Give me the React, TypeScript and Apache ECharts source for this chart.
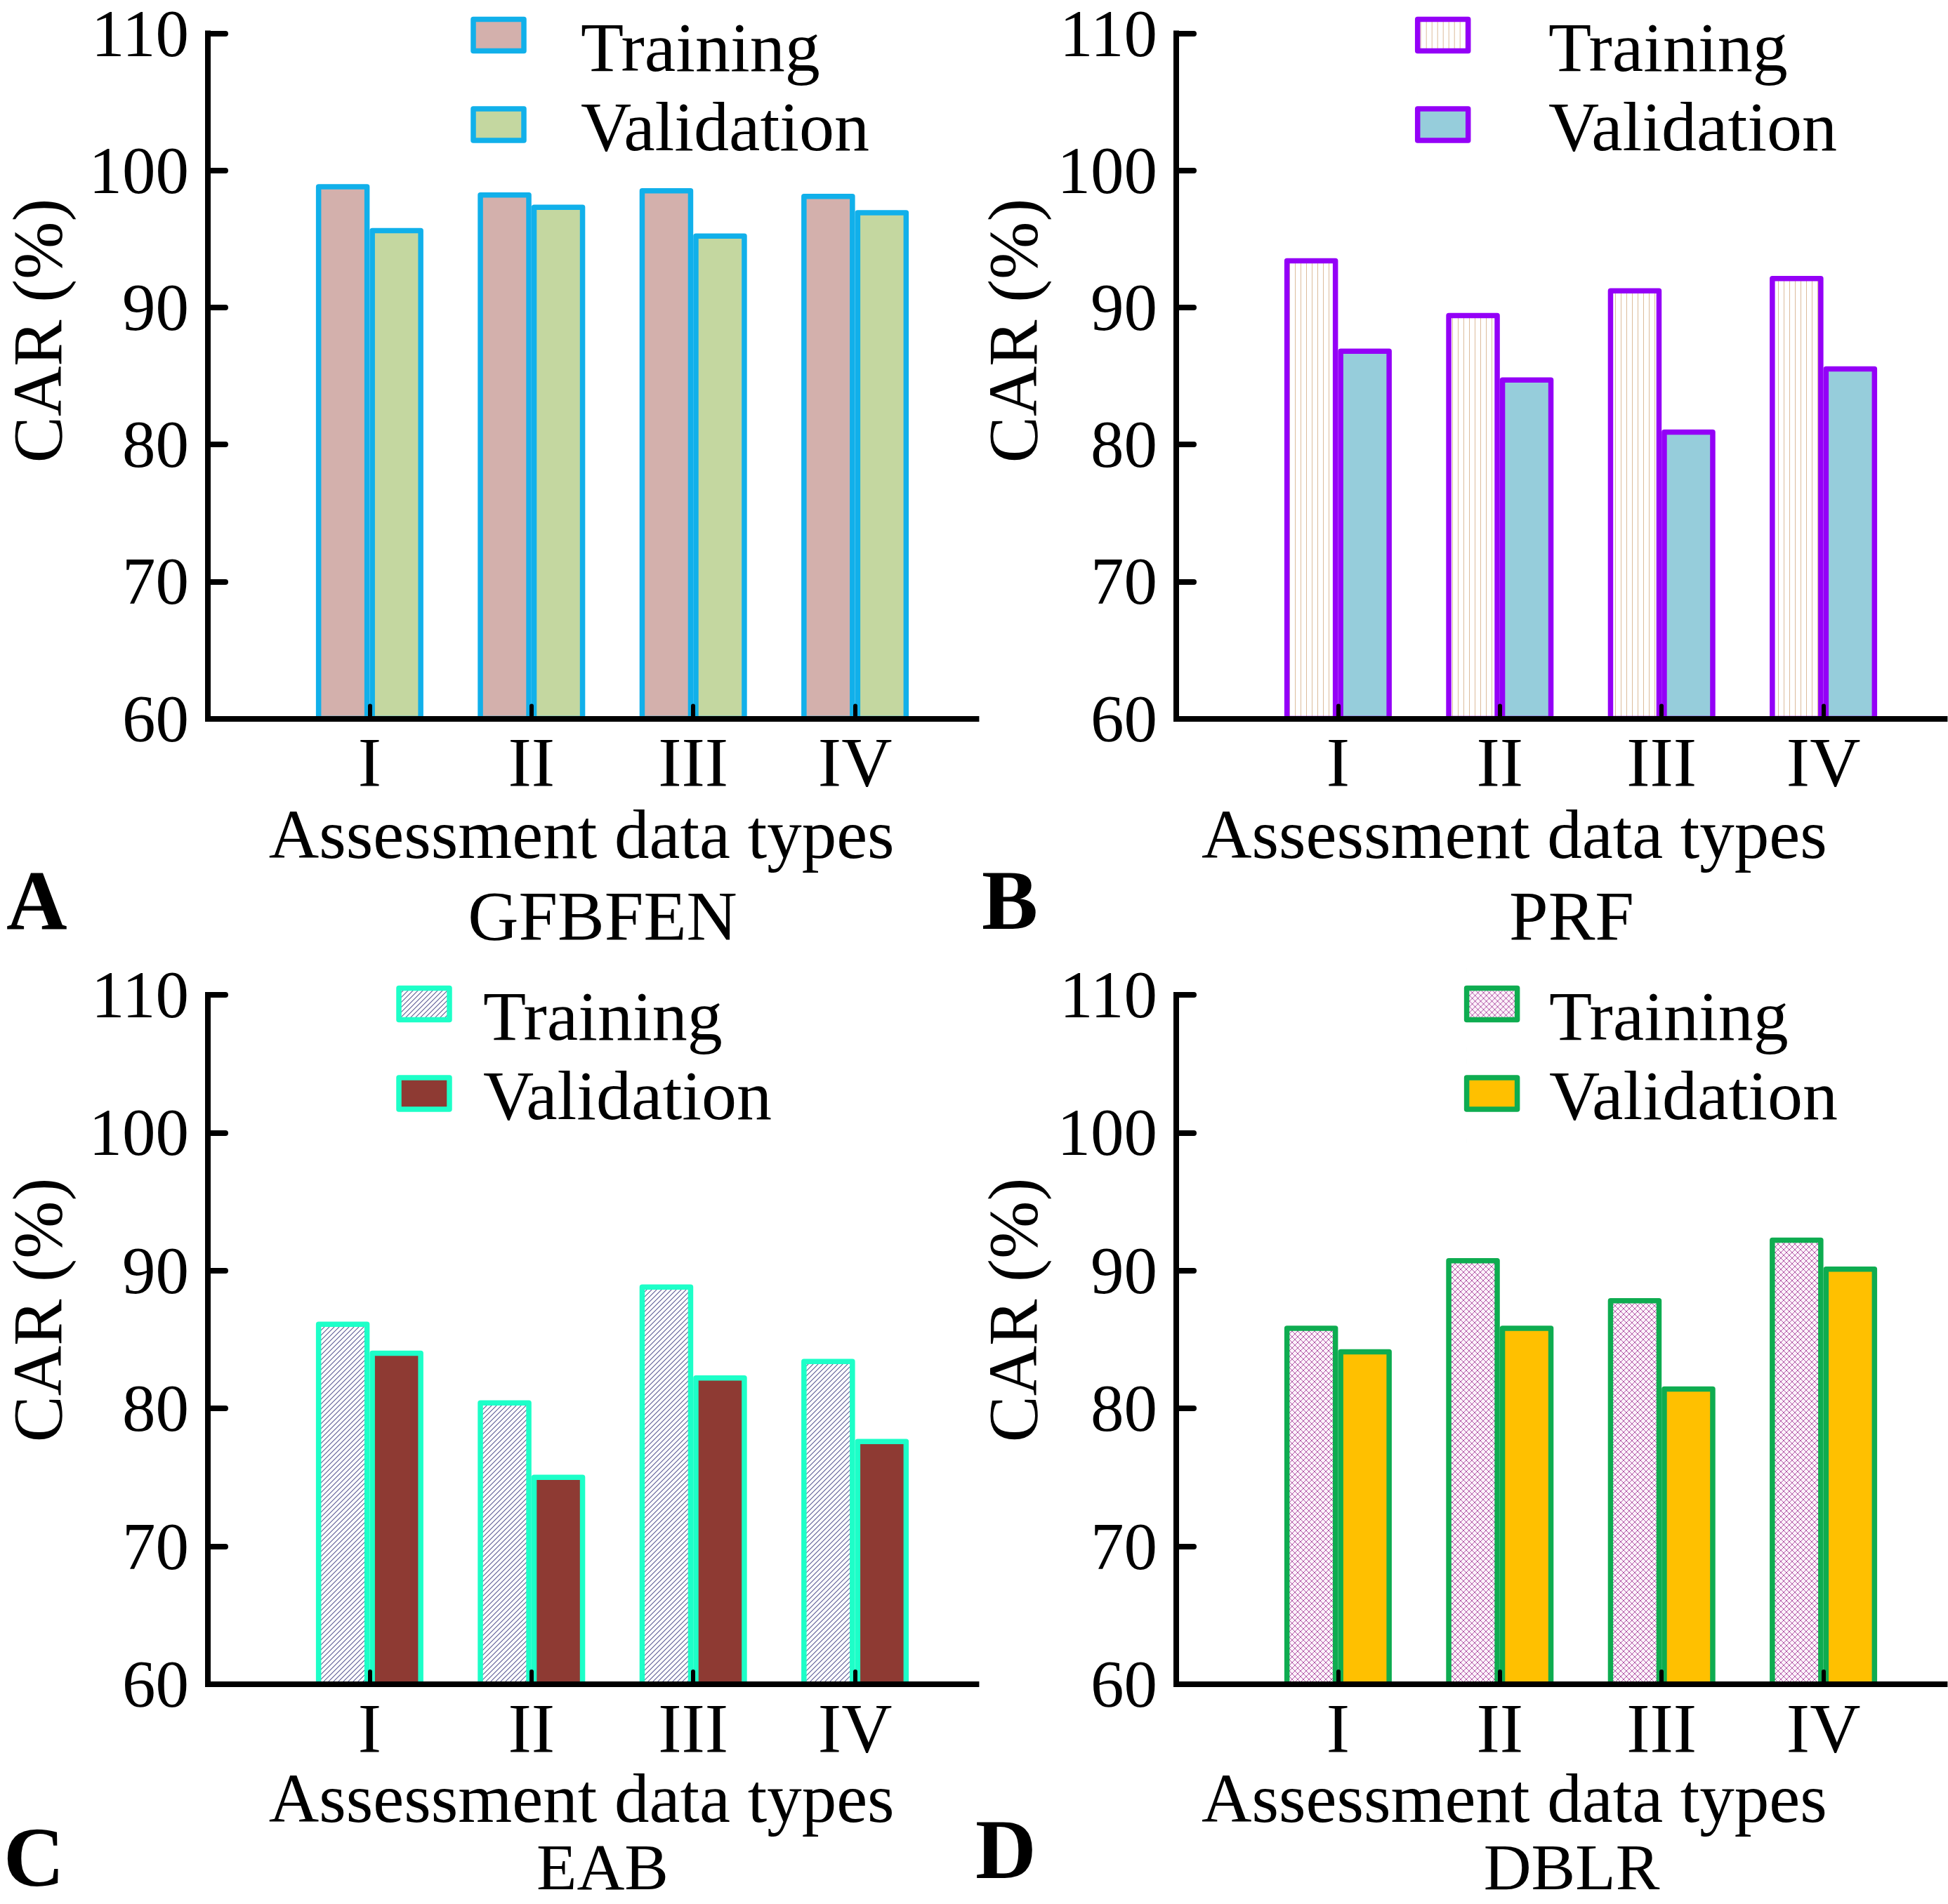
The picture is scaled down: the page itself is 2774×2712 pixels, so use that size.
import React, { useEffect, useRef } from 'react';
import * as echarts from 'echarts';

// ---------------- data ----------------
const categories = ['I', 'II', 'III', 'IV'];
const categoryPositions = [1, 2, 3, 4];
const seriesLabels = ['Training', 'Validation'];
const modelNames = ['GFBFEN', 'PRF', 'EAB', 'DBLR'];
const panelLetters = ['A', 'B', 'C', 'D'];
const yMin = 60;
const yMax = 110;
const yStep = 10;

const gfbfenTraining = [99.0, 98.4, 98.7, 98.3];
const gfbfenValidation = [95.8, 97.5, 95.4, 97.1];
const prfTraining = [93.6, 89.6, 91.4, 92.3];
const prfValidation = [87.0, 84.9, 81.1, 85.7];
const eabTraining = [86.3, 80.6, 89.0, 83.6];
const eabValidation = [84.2, 75.2, 82.4, 77.8];
const dblrTraining = [86.0, 90.9, 88.0, 92.4];
const dblrValidation = [84.3, 86.0, 81.6, 90.3];

const trainingSets = [gfbfenTraining, prfTraining, eabTraining, dblrTraining];
const validationSets = [gfbfenValidation, prfValidation, eabValidation, dblrValidation];

// ---------------- layout / style ----------------
const W = 2774;
const H = 2712;
const FONT = "'Liberation Serif', 'Times New Roman', Times, serif";
const CAT_STEP = 230.4;
const X_MAX = 4.75;
const ICON_W = 72;
const ICON_H = 45;
const ICON_BOX = 130; // legend item height (icon box incl. spacing)

const layout = [
  { left: 296, top: 42, bottom: 1023.5, xNameGap: 115, nameShiftX: 15, yNameGap: 193, yNameShift: 64.7, iconCx: 710, textLeft: 829, rowOffset: 0, title: [858, 1304], titleSize: 100, letter: [9, 1282] },
  { left: 1675, top: 42, bottom: 1023.5, xNameGap: 115, nameShiftX: 65.8, yNameGap: 183, yNameShift: 64.7, iconCx: 2054.7, textLeft: 2207, rowOffset: 0, title: [2238, 1304], titleSize: 100, letter: [1398, 1282] },
  { left: 296, top: 1417, bottom: 2399, xNameGap: 103, nameShiftX: 15, yNameGap: 193, yNameShift: 42, iconCx: 604, textLeft: 690, rowOffset: 1380, title: [858, 2659], titleSize: 94, letter: [5, 2645] },
  { left: 1675, top: 1417, bottom: 2399, xNameGap: 103, nameShiftX: 65.8, yNameGap: 183, yNameShift: 42, iconCx: 2124.6, textLeft: 2208, rowOffset: 1380, title: [2238, 2659], titleSize: 94, letter: [1389, 2634] },
];

function tile(size: number, draw: (ctx: CanvasRenderingContext2D, s: number) => void) {
  const c = document.createElement('canvas');
  c.width = size;
  c.height = size;
  const ctx = c.getContext('2d') as CanvasRenderingContext2D;
  draw(ctx, size);
  return { image: c.toDataURL(), repeat: 'repeat', imageWidth: size, imageHeight: size };
}

function makeFills() {
  const vertical = tile(8, (ctx, s) => {
    ctx.fillStyle = '#ffffff';
    ctx.fillRect(0, 0, s, s);
    ctx.fillStyle = '#dcbc9c';
    ctx.fillRect(4, 0, 1, s);
  });
  const diagonal = tile(7, (ctx, s) => {
    ctx.fillStyle = '#ffffff';
    ctx.fillRect(0, 0, s, s);
    ctx.strokeStyle = '#5c5c96';
    ctx.lineWidth = 1.1;
    ctx.beginPath();
    ctx.moveTo(-1, s + 1); ctx.lineTo(s + 1, -1);
    ctx.moveTo(-2, 2); ctx.lineTo(2, -2);
    ctx.moveTo(s - 2, s + 2); ctx.lineTo(s + 2, s - 2);
    ctx.stroke();
  });
  const cross = tile(8, (ctx, s) => {
    ctx.fillStyle = '#fcf2fa';
    ctx.fillRect(0, 0, s, s);
    ctx.strokeStyle = '#b25aa8';
    ctx.lineWidth = 1;
    ctx.beginPath();
    ctx.moveTo(-1, s + 1); ctx.lineTo(s + 1, -1);
    ctx.moveTo(-2, 2); ctx.lineTo(2, -2);
    ctx.moveTo(s - 2, s + 2); ctx.lineTo(s + 2, s - 2);
    ctx.moveTo(-1, -1); ctx.lineTo(s + 1, s + 1);
    ctx.moveTo(-2, s - 2); ctx.lineTo(2, s + 2);
    ctx.moveTo(s - 2, -2); ctx.lineTo(s + 2, 2);
    ctx.stroke();
  });
  return [
    { train: '#d3b0ac', val: '#c4d7a0', border: '#11b0ea' },
    { train: vertical, val: '#96cddb', border: '#9400f7' },
    { train: diagonal, val: '#8e3a33', border: '#1dffc8' },
    { train: cross, val: '#ffc000', border: '#0eac50' },
  ];
}

// legend icon: a rect placed inside a taller box so the label can sit below the rect's centre
function legendIconPath(rectTop: number) {
  return `path://M0 0L0.01 0M0 ${rectTop}H${ICON_W}V${rectTop + ICON_H}H0ZM0 ${ICON_BOX}L0.01 ${ICON_BOX}`;
}

function buildOption() {
  const fills = makeFills();
  const grid: any[] = [];
  const xAxis: any[] = [];
  const yAxis: any[] = [];
  const series: any[] = [];
  const legend: any[] = [];
  const graphic: any[] = [];

  layout.forEach((p, i) => {
    grid.push({ left: p.left, top: p.top, width: X_MAX * CAT_STEP, height: p.bottom - p.top, containLabel: false });
    xAxis.push({
      type: 'value',
      gridIndex: i,
      min: 0,
      max: X_MAX,
      interval: 1,
      z: 5,
      splitLine: { show: false },
      axisLine: { show: true, onZero: false, lineStyle: { color: '#000', width: 8, cap: 'square' } },
      axisTick: { show: true, inside: true, length: 18, customValues: categoryPositions, lineStyle: { color: '#000', width: 6, cap: 'round' } },
      axisLabel: {
        show: true,
        customValues: categoryPositions,
        formatter: (v: number) => (Number.isInteger(v) && categories[v - 1]) || '',
        fontSize: 100,
        lineHeight: 100,
        fontFamily: FONT,
        color: '#000',
        margin: 12,
      },
      name: 'Assessment data types',
      nameLocation: 'middle',
      nameGap: p.xNameGap,
      nameTextStyle: { fontSize: 99, lineHeight: 99, fontFamily: FONT, color: '#000', padding: [0, 2 * p.nameShiftX, 0, 0] },
    });
    yAxis.push({
      type: 'value',
      gridIndex: i,
      min: yMin,
      max: yMax,
      interval: yStep,
      z: 5,
      splitLine: { show: false },
      axisLine: { show: true, onZero: false, lineStyle: { color: '#000', width: 8, cap: 'square' } },
      axisTick: { show: true, inside: true, length: 25, lineStyle: { color: '#000', width: 8, cap: 'round' } },
      axisLabel: { fontSize: 95, fontFamily: FONT, color: '#000', margin: 27 },
      name: 'CAR (%)',
      nameLocation: 'middle',
      nameGap: p.yNameGap,
      nameTextStyle: { fontSize: 99, lineHeight: 99, fontFamily: FONT, color: '#000', padding: [0, 0, 0, 2 * p.yNameShift] },
    });

    const sets = [trainingSets[i], validationSets[i]];
    const colors = [fills[i].train, fills[i].val];
    sets.forEach((vals, r) => {
      const name = `${seriesLabels[r]} (${modelNames[i]})`;
      series.push({
        type: 'bar',
        name,
        xAxisIndex: i,
        yAxisIndex: i,
        data: vals.map((v, k) => [categoryPositions[k], v]),
        barWidth: 76.5,
        barGap: '0%',
        clip: true,
        z: 2,
        emphasis: { disabled: true },
        itemStyle: { color: colors[r], borderColor: fills[i].border, borderWidth: 7.5, borderJoin: 'round' },
      });
      const iconCy = [50, 177.5][r] + p.rowOffset;
      const textCy = [67, 180][r] + p.rowOffset;
      const shift = textCy - iconCy;
      const rectTop = ICON_BOX / 2 - ICON_H / 2 - shift;
      const ix = p.iconCx - ICON_W / 2;
      legend.push({
        data: [name],
        left: ix - 3.75,
        top: iconCy - ICON_H / 2 - rectTop - 3.75,
        padding: 0,
        icon: legendIconPath(rectTop),
        symbolKeepAspect: false,
        itemWidth: ICON_W,
        itemHeight: ICON_BOX,
        selectedMode: false,
        formatter: () => seriesLabels[r],
        itemStyle: { borderWidth: 7.5 },
        textStyle: {
          fontSize: 100,
          fontFamily: FONT,
          color: '#000',
          padding: [0, 0, 0, p.textLeft - ix - ICON_W - 5 - 2],
        },
      });
    });

    graphic.push({
      type: 'text',
      x: p.title[0],
      y: p.title[1],
      style: { text: modelNames[i], fontSize: p.titleSize, fontFamily: FONT, fill: '#000', align: 'center', textAlign: 'center', verticalAlign: 'middle', textVerticalAlign: 'middle' },
    });
    graphic.push({
      type: 'text',
      x: p.letter[0],
      y: p.letter[1],
      style: { text: panelLetters[i], fontSize: 120, fontWeight: 'bold', fontFamily: FONT, fill: '#000', align: 'left', textAlign: 'left', verticalAlign: 'middle', textVerticalAlign: 'middle' },
    });
  });

  return {
    animation: false,
    backgroundColor: '#ffffff',
    textStyle: { fontFamily: FONT },
    grid,
    xAxis,
    yAxis,
    series,
    legend,
    graphic,
  };
}

export default function App() {
  const ref = useRef<HTMLDivElement>(null);
  useEffect(() => {
    if (!ref.current) return;
    const chart = echarts.init(ref.current, null, { renderer: 'svg', width: W, height: H });
    chart.setOption(buildOption() as any);
    return () => chart.dispose();
  }, []);
  return <div ref={ref} style={{ position: 'absolute', left: 0, top: 0, width: W, height: H, background: '#fff' }} />;
}
